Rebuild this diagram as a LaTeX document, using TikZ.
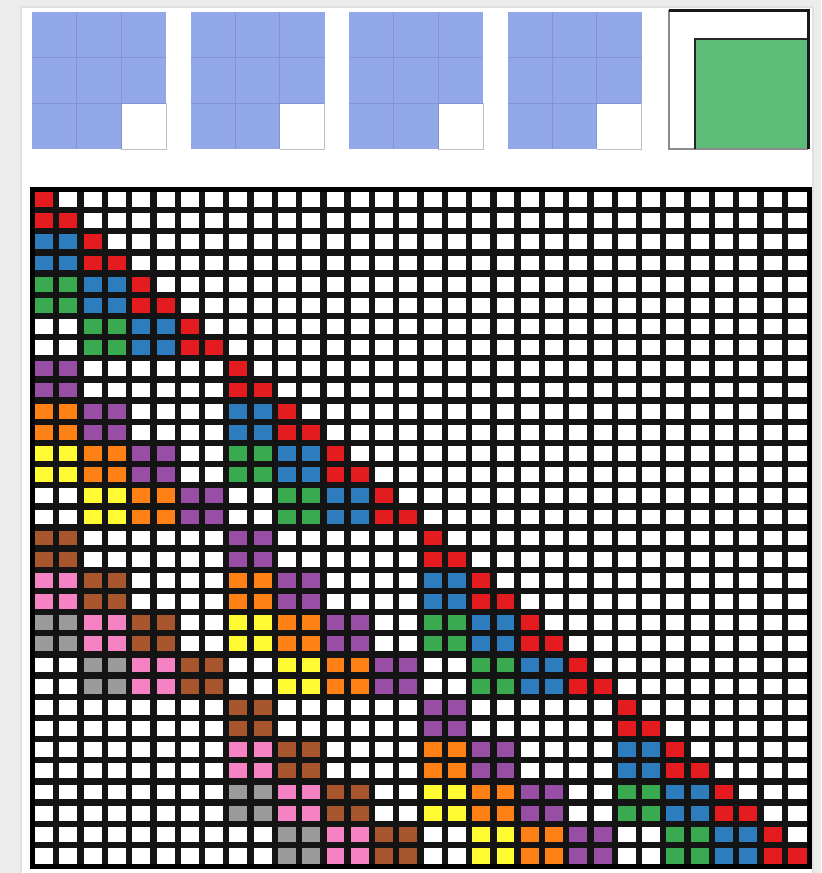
\documentclass[tikz,border=0pt]{standalone}
\definecolor{c0}{RGB}{228,28,32}
\definecolor{c1}{RGB}{44,124,190}
\definecolor{c2}{RGB}{58,170,80}
\definecolor{c3}{RGB}{152,78,165}
\definecolor{c4}{RGB}{255,128,20}
\definecolor{c5}{RGB}{255,250,50}
\definecolor{c6}{RGB}{168,86,45}
\definecolor{c7}{RGB}{245,130,195}
\definecolor{c8}{RGB}{155,155,155}
\definecolor{bluefill}{RGB}{147,168,232}
\definecolor{blueline}{RGB}{132,148,205}
\definecolor{greenfill}{RGB}{92,189,120}
\definecolor{bgc}{RGB}{236,236,236}
\tikzset{
  gridline/.style={black!92, line width=1.9mm},
  innerblue/.style={blueline, line width=0.35mm},
}
\begin{document}
\begin{tikzpicture}[x=0.3mm,y=-0.3mm]
\useasboundingbox (0,0) rectangle (821,873);
% screenshot frame
\fill[bgc] (0,0) rectangle (821,873);
\fill[white] (21,7) rectangle (813,873);
\draw[black!12, line width=0.6mm] (21,873) -- (21,7) -- (813,7) -- (813,873);
% top: four blue 3x3 grids
\foreach \x in {32,190.5,349,507.5}{
  \fill[bluefill] (\x,11.5) rectangle +(134,137.5);
  \fill[white] (\x+89.33,11.5+91.67) rectangle +(44.67,45.83);
  \draw[innerblue] (\x+44.67,11.5) -- +(0,137.5);
  \draw[innerblue] (\x+89.33,11.5) -- +(0,137.5);
  \draw[innerblue] (\x,11.5+45.83) -- +(134,0);
  \draw[innerblue] (\x,11.5+91.67) -- +(134,0);
  \draw[black!25, line width=0.3mm] (\x+89.33,149) -- (\x+134,149) -- (\x+134,11.5+91.67);
}
% top: green square in a frame
\fill[greenfill] (695,39) rectangle (808,149);
\draw[black!45, line width=0.35mm] (808,149) -- (669,149) -- (669,10);
\draw[black!85, line width=0.6mm] (695,149) -- (695,39) -- (808,39);
\draw[black!90, line width=0.9mm] (669,10) -- (808,10) -- (808,149);
% bottom: 32x32 block lower-triangular matrix
\def\W{24.28125}
\def\H{21.15625}
\foreach \bi in {0,...,15}{
  \foreach \bj in {0,...,\bi}{
    \pgfmathtruncatemacro{\d}{floor(\bi/4)-floor(\bj/4)}
    \pgfmathtruncatemacro{\e}{mod(\bi,4)-mod(\bj,4)}
    \pgfmathtruncatemacro{\k}{((\e>=0)&&(\e<=2)&&(\d<=2)) ? \d*3+\e : -1}
    \ifnum\k=0
      \fill[c0] (32+2*\bj*\W,189+2*\bi*\H) rectangle +(\W,2*\H);
      \fill[c0] (32+2*\bj*\W+\W,189+2*\bi*\H+\H) rectangle +(\W,\H);
    \else\ifnum\k>0
      \fill[c\k] (32+2*\bj*\W,189+2*\bi*\H) rectangle +(2*\W,2*\H);
    \fi\fi
  }
}
\foreach \i in {1,...,31}{
  \draw[gridline] (32+\i*\W,189) -- (32+\i*\W,866);
  \draw[gridline] (32,189+\i*\H) -- (809,189+\i*\H);
}
\draw[black, line width=1.5mm] (32,189) rectangle (809,866);
\end{tikzpicture}
\end{document}
